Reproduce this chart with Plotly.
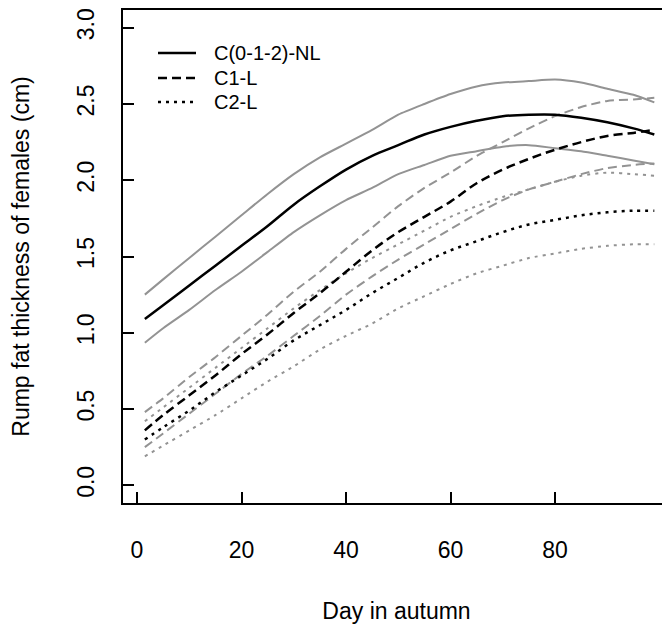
import plotly.graph_objects as go

# ---- data ----
days = [1.5, 5, 10, 15, 20, 25, 30, 35, 40, 45, 50, 55, 60, 65, 70, 75, 80, 85, 90, 95, 99]

nl_mean = [1.09, 1.18, 1.31, 1.44, 1.57, 1.70, 1.84, 1.96, 2.07, 2.16, 2.23, 2.30, 2.35, 2.39, 2.42, 2.43, 2.43, 2.41, 2.38, 2.34, 2.30]
nl_upper = [1.25, 1.35, 1.49, 1.63, 1.77, 1.91, 2.04, 2.15, 2.24, 2.33, 2.43, 2.50, 2.565, 2.615, 2.64, 2.65, 2.66, 2.64, 2.60, 2.56, 2.51]
nl_lower = [0.935, 1.03, 1.15, 1.28, 1.40, 1.53, 1.66, 1.77, 1.87, 1.95, 2.04, 2.10, 2.16, 2.19, 2.22, 2.23, 2.21, 2.19, 2.16, 2.13, 2.105]

c1_mean = [0.36, 0.46, 0.59, 0.72, 0.86, 0.99, 1.13, 1.26, 1.40, 1.54, 1.66, 1.76, 1.86, 1.98, 2.07, 2.14, 2.20, 2.25, 2.29, 2.31, 2.33]
c1_upper = [0.48, 0.57, 0.71, 0.84, 0.98, 1.12, 1.27, 1.40, 1.55, 1.69, 1.83, 1.95, 2.05, 2.16, 2.25, 2.34, 2.42, 2.48, 2.52, 2.53, 2.54]
c1_lower = [0.25, 0.34, 0.47, 0.60, 0.73, 0.85, 0.98, 1.11, 1.25, 1.37, 1.48, 1.58, 1.68, 1.78, 1.87, 1.94, 1.99, 2.04, 2.08, 2.10, 2.11]

c2_mean = [0.30, 0.38, 0.49, 0.61, 0.72, 0.83, 0.95, 1.05, 1.15, 1.26, 1.36, 1.46, 1.54, 1.60, 1.66, 1.71, 1.74, 1.77, 1.79, 1.80, 1.80]
c2_upper = [0.42, 0.51, 0.64, 0.77, 0.90, 1.03, 1.16, 1.28, 1.39, 1.49, 1.58, 1.67, 1.76, 1.83, 1.89, 1.94, 1.99, 2.03, 2.05, 2.04, 2.03]
c2_lower = [0.19, 0.26, 0.36, 0.46, 0.57, 0.68, 0.78, 0.89, 0.98, 1.06, 1.16, 1.24, 1.32, 1.39, 1.44, 1.49, 1.52, 1.55, 1.57, 1.58, 1.58]

names = ["C(0-1-2)-NL", "C1-L", "C2-L"]
x_ticks = [0, 20, 40, 60, 80]
y_ticks = [0.0, 0.5, 1.0, 1.5, 2.0, 2.5, 3.0]
y_tick_text = ["0.0", "0.5", "1.0", "1.5", "2.0", "2.5", "3.0"]

GREY = "#939393"
FONT = "Liberation Sans, Arial, sans-serif"
dash_styles = ["solid", "9px,5px", "3px,5px"]

# layout geometry (figure pixels; page is offset by the 8px body margin)
W, H = 670, 625
ML, MR, MT, MB = 115, 8, 2, 130
PW, PH = W - ML - MR, H - MT - MB


def px_to_paper_x(px):
    return (px - ML) / PW


def px_to_paper_y(py):
    return 1 - (py - MT) / PH


fig = go.Figure()

bounds = [(nl_upper, nl_lower), (c1_upper, c1_lower), (c2_upper, c2_lower)]
for (up, lo), ds in zip(bounds, dash_styles):
    for series in (up, lo):
        fig.add_trace(go.Scatter(x=days, y=series, mode="lines", showlegend=False,
                                 hoverinfo="skip",
                                 line=dict(color=GREY, width=2, dash=ds, shape="spline",
                                           smoothing=0.6)))

for series, name, ds in zip([nl_mean, c1_mean, c2_mean], names, dash_styles):
    fig.add_trace(go.Scatter(x=days, y=series, mode="lines", name=name, showlegend=False,
                             line=dict(color="black", width=2.5, dash=ds, shape="spline")))

# legend drawn at the reference's position (line samples + labels)
legend_rows_y = [45, 70, 94]
for name, ds, ry in zip(names, dash_styles, legend_rows_y):
    fig.add_shape(type="line", xref="paper", yref="paper",
                  x0=px_to_paper_x(150), x1=px_to_paper_x(188),
                  y0=px_to_paper_y(ry), y1=px_to_paper_y(ry),
                  line=dict(color="black", width=2.5, dash=ds))
    fig.add_annotation(xref="paper", yref="paper", x=px_to_paper_x(204), y=px_to_paper_y(ry),
                       text=name, showarrow=False, xanchor="left", yanchor="middle",
                       font=dict(size=20, family=FONT, color="black"))

fig.update_layout(
    width=W, height=H,
    margin=dict(l=ML, r=MR, t=MT, b=MB),
    paper_bgcolor="white", plot_bgcolor="white",
    font=dict(family=FONT, size=23, color="black"),
    showlegend=False,
)
fig.update_xaxes(
    range=[-2.68, 102.0], tickvals=x_ticks, ticks="inside", ticklen=11, tickwidth=2,
    tickcolor="black", showline=True, linecolor="black", linewidth=2, mirror=True,
    showgrid=False, zeroline=False, ticklabelstandoff=25, automargin=False,
    title=dict(text="Day in autumn", standoff=41, font=dict(size=23)),
)
fig.update_yaxes(
    range=[-0.116, 3.116], tickvals=y_ticks, ticktext=y_tick_text, tickangle=-90,
    ticks="inside", ticklen=11, tickwidth=2, tickcolor="black",
    showline=True, linecolor="black", linewidth=2, mirror=False,
    showgrid=False, zeroline=False, ticklabelstandoff=18, automargin=False,
    title=dict(text="Rump fat thickness of females (cm)", standoff=41, font=dict(size=23)),
)

fig.write_html("out.html")
